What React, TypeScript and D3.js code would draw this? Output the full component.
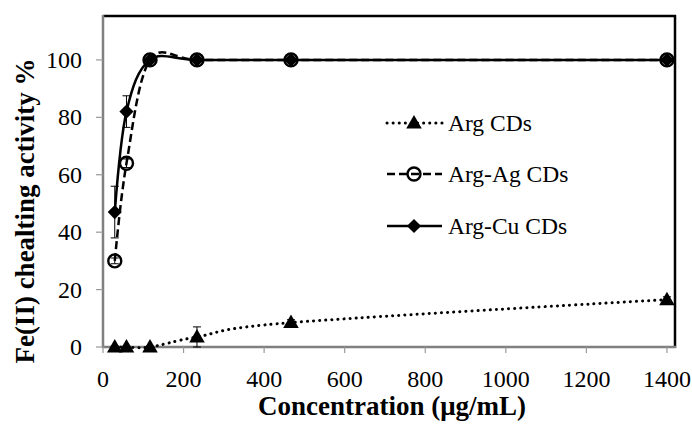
import React, { useEffect } from 'react';
import * as d3 from 'd3';

const concentrations = [29.2, 58.3, 116.7, 233.3, 466.7, 1400];
const argValues = [0, 0, 0, 3.5, 8.5, 16.5];
const argErrors = [0.3, 0.3, 0.3, 3.5, 1, 1];
const agValues = [30, 64, 100, 100, 100, 100];
const agErrors = [1, 1.5, 0.5, 0.5, 0.5, 0.5];
const cuValues = [47, 82, 100, 100, 100, 100];
const cuErrors = [9, 5.5, 0.5, 0.5, 0.5, 0.5];
const xTicks = [0, 200, 400, 600, 800, 1000, 1200, 1400];
const yTicks = [0, 20, 40, 60, 80, 100];
const legendLabels = ['Arg CDs', 'Arg-Ag CDs', 'Arg-Cu CDs'];

const W = 692;
const H = 424;
const font = 'Liberation Serif, Times New Roman, serif';

const triangle = d3.symbol().type(d3.symbolTriangle).size(105);
const diamond = d3.symbol().type(d3.symbolSquare).size(100);

function Marker({ kind, x, y }: { kind: number; x: number; y: number }) {
  if (kind === 0) return <path d={triangle() as string} transform={`translate(${x},${y + 1})`} fill="#000" />;
  if (kind === 1) return <circle cx={x} cy={y} r={6.5} fill="none" stroke="#000" strokeWidth={2.4} />;
  return <path d={diamond() as string} transform={`translate(${x},${y}) rotate(45)`} fill="#000" />;
}

export default function App() {
  useEffect(() => {
    document.body.style.margin = '0';
  }, []);

  const x = d3.scaleLinear().domain([0, 1420]).range([103, 675]);
  const y = d3.scaleLinear().domain([0, 115.3]).range([347, 16]);

  const series = [
    { values: argValues, errors: argErrors, dash: '0.1 6', width: 3, cap: 'round' },
    { values: agValues, errors: agErrors, dash: '8 4', width: 2.5, cap: 'butt' },
    { values: cuValues, errors: cuErrors, dash: null, width: 2.5, cap: 'butt' },
  ];

  // Excel-style smoothed lines
  const line = d3
    .line<number>()
    .x((_, i) => x(concentrations[i]))
    .y((d) => y(d))
    .curve(d3.curveCardinal.tension(0));

  const legendY = [123, 174, 226];

  return (
    <svg width={W} height={H} style={{ display: 'block', background: '#fff' }} fontFamily={font}>
      {/* frame */}
      <line x1={103} x2={676} y1={16} y2={16} stroke="#000" strokeWidth={2.5} />
      <line x1={675} x2={675} y1={15} y2={348} stroke="#000" strokeWidth={2.5} />
      <line x1={103} x2={103} y1={15} y2={348} stroke="#808080" strokeWidth={2.5} />
      <line x1={102} x2={676} y1={347} y2={347} stroke="#808080" strokeWidth={2.5} />

      {/* y axis */}
      {yTicks.map((t) => (
        <g key={t}>
          <line x1={96} x2={103} y1={y(t)} y2={y(t)} stroke="#999" strokeWidth={1.2} />
          <text x={82} y={y(t) + 8} textAnchor="end" fontSize={24}>
            {t}
          </text>
        </g>
      ))}
      {/* x axis */}
      {xTicks.map((t) => (
        <g key={t}>
          <line x1={x(t)} x2={x(t)} y1={347} y2={353} stroke="#999" strokeWidth={1.2} />
          <text x={x(t)} y={387} textAnchor="middle" fontSize={24}>
            {t}
          </text>
        </g>
      ))}

      <text transform="translate(34,211) rotate(-90)" textAnchor="middle" fontSize={27} fontWeight="bold">
        Fe(II) chealting activity %
      </text>
      <text x={392} y={415} textAnchor="middle" fontSize={27} fontWeight="bold">
        Concentration (μg/mL)
      </text>

      {/* series */}
      {series.map((s, k) => (
        <g key={k}>
          <path
            d={line(s.values) as string}
            fill="none"
            stroke="#000"
            strokeWidth={s.width}
            strokeDasharray={s.dash ?? undefined}
            strokeLinecap={s.cap as any}
          />
          {s.values.map((v, i) => {
            const cx = x(concentrations[i]);
            const e = s.errors[i];
            return (
              <g key={i} stroke="#000" strokeWidth={1}>
                <line x1={cx} x2={cx} y1={y(v - e)} y2={y(v + e)} />
                <line x1={cx - 4} x2={cx + 4} y1={y(v + e)} y2={y(v + e)} />
                <line x1={cx - 4} x2={cx + 4} y1={y(v - e)} y2={y(v - e)} />
              </g>
            );
          })}
          {s.values.map((v, i) => (
            <Marker key={i} kind={k} x={x(concentrations[i])} y={y(v)} />
          ))}
        </g>
      ))}

      {/* legend */}
      {legendLabels.map((label, k) => (
        <g key={label}>
          <line
            x1={387}
            x2={442}
            y1={legendY[k]}
            y2={legendY[k]}
            stroke="#000"
            strokeWidth={series[k].width}
            strokeDasharray={series[k].dash ?? undefined}
            strokeLinecap={series[k].cap as any}
          />
          <Marker kind={k} x={414} y={legendY[k]} />
          <text x={448} y={legendY[k] + 8} fontSize={23.5}>
            {label}
          </text>
        </g>
      ))}
    </svg>
  );
}
